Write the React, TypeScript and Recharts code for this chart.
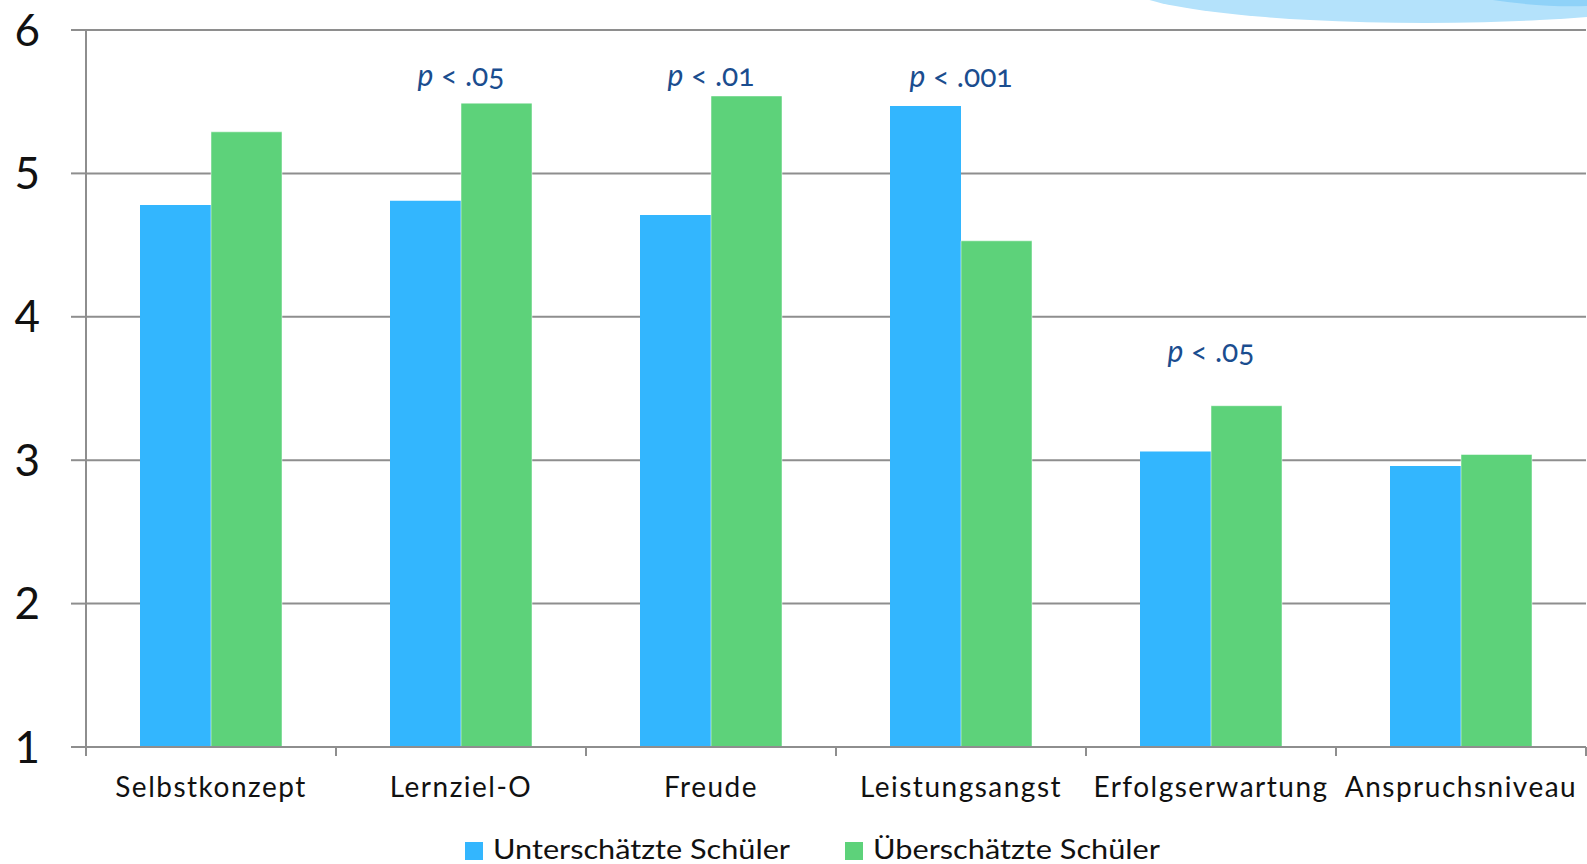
import {
  BarChart,
  Bar,
  XAxis,
  YAxis,
  CartesianGrid,
  Legend,
  ReferenceDot,
} from 'recharts'

const categories = [
  'Selbstkonzept',
  'Lernziel-O',
  'Freude',
  'Leistungsangst',
  'Erfolgserwartung',
  'Anspruchsniveau',
]
const unterschaetzt = [4.78, 4.81, 4.71, 5.47, 3.06, 2.96]
const ueberschaetzt = [5.29, 5.49, 5.54, 4.53, 3.38, 3.04]
const yTicks = [1, 2, 3, 4, 5, 6]

// significance markers: category, p threshold, height in scale units
const sigCategories = ['Lernziel-O', 'Freude', 'Leistungsangst', 'Erfolgserwartung']
const sigValues = ['.05', '.01', '.001', '.05']
const sigLevels = [5.61, 5.61, 5.6, 3.685]

const seriesNames = ['Unterschätzte Schüler', 'Überschätzte Schüler']

const W = 1587
const H = 864
const PLOT_LEFT = 86
const PLOT_RIGHT_MARGIN = 1
const BAND = (W - PLOT_LEFT - PLOT_RIGHT_MARGIN) / categories.length

const BLUE = '#33b6fe'
const GREEN = '#5dd27a'
const AXIS = '#8e8e8e'
const FONT = 'Lato, "Open Sans", sans-serif'

const data = categories.map((name, i) => ({
  name,
  unter: unterschaetzt[i],
  ueber: ueberschaetzt[i],
}))

function XTick(props: any) {
  const { x, y, payload, index } = props
  const left = x - BAND / 2
  return (
    <g>
      <line x1={left} x2={left} y1={y} y2={y + 9} stroke={AXIS} strokeWidth={2} />
      {index === categories.length - 1 && (
        <line x1={x + BAND / 2} x2={x + BAND / 2} y1={y} y2={y + 9} stroke={AXIS} strokeWidth={2} />
      )}
      <text
        x={x}
        y={y + 50}
        textAnchor="middle"
        fill="#111"
        fontSize={28}
        fontFamily={FONT}
        letterSpacing={1.5}
      >
        {payload.value}
      </text>
    </g>
  )
}

function YTick(props: any) {
  const { x, y, payload } = props
  return (
    <text x={x} y={y + 15.5} textAnchor="end" fill="#111" fontSize={44} fontFamily={FONT}>
      {payload.value}
    </text>
  )
}

function SigMark(props: any) {
  const { cx, cy, value } = props
  return (
    <text
      x={cx}
      y={cy}
      textAnchor="middle"
      fill="#1a4d8f"
      fontSize={30}
      fontFamily={FONT}
      style={{ fontVariantNumeric: 'oldstyle-nums' }}
    >
      <tspan fontStyle="italic">p</tspan> &lt; {value}
    </text>
  )
}

function LegendBox() {
  return (
    <svg width={W} height={57} style={{ display: 'block' }}>
      <rect x={465} y={35} width={18} height={18} fill={BLUE} />
      <text x={493} y={51.5} fontSize={27} fontFamily={FONT} fill="#111" textLength={297} lengthAdjust="spacingAndGlyphs">
        {seriesNames[0]}
      </text>
      <rect x={845} y={35} width={18} height={18} fill={GREEN} />
      <text x={873} y={51.5} fontSize={27} fontFamily={FONT} fill="#111" textLength={287} lengthAdjust="spacingAndGlyphs">
        {seriesNames[1]}
      </text>
    </svg>
  )
}

export default function App() {
  return (
    <div style={{ position: 'absolute', left: 0, top: 0, width: W, height: H, background: '#fff', overflow: 'hidden' }}>
      {/* light swoosh in the upper right corner */}
      <svg width={W} height={40} style={{ position: 'absolute', left: 0, top: 0 }}>
        <ellipse cx={1425} cy={-15} rx={300} ry={38} fill="#b4e2fb" />
        <path d="M1480 -2 Q1540 8 1587 6 L1587 0 L1480 0 Z" fill="#8fd2f8" />
      </svg>
      <BarChart
        width={W}
        height={H}
        data={data}
        margin={{ top: 30, right: PLOT_RIGHT_MARGIN, left: 0, bottom: 0 }}
        barCategoryGap={54}
        barGap={0}
      >
        <CartesianGrid vertical={false} stroke={AXIS} strokeWidth={2} />
        <XAxis
          dataKey="name"
          height={60}
          tickLine={false}
          tickSize={0}
          tickMargin={0}
          axisLine={{ stroke: AXIS, strokeWidth: 2 }}
          tick={<XTick />}
          interval={0}
        />
        <YAxis
          width={PLOT_LEFT}
          domain={[1, 6]}
          ticks={yTicks}
          tickSize={15}
          tickMargin={31}
          tickLine={{ stroke: AXIS, strokeWidth: 2 }}
          axisLine={{ stroke: AXIS, strokeWidth: 2 }}
          tick={<YTick />}
          allowDataOverflow
        />
        <Legend verticalAlign="bottom" content={<LegendBox />} wrapperStyle={{ lineHeight: 0 }} />
        <Bar dataKey="unter" name={seriesNames[0]} fill={BLUE} isAnimationActive={false} />
        <Bar dataKey="ueber" name={seriesNames[1]} fill={GREEN} stroke="#ffffff" strokeOpacity={0.5} strokeWidth={1} isAnimationActive={false} />
        {sigCategories.map((c, i) => (
          <ReferenceDot
            key={c}
            x={c}
            y={sigLevels[i]}
            r={0}
            shape={(p: any) => <SigMark {...p} value={sigValues[i]} />}
          />
        ))}
      </BarChart>
    </div>
  )
}
